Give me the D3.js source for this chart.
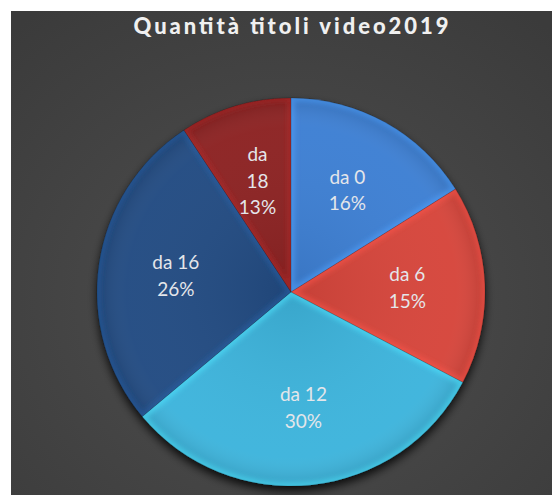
<!DOCTYPE html>
<html><head><meta charset="utf-8">
<script src="https://cdn.jsdelivr.net/npm/d3@7"></script>
<style>html,body{margin:0;padding:0;background:#fff;}svg{display:block;}</style>
</head><body>
<svg id="chart" width="552" height="495"></svg>
<script>
const title = "Quantità titoli video2019";
const categories = ["da 0", "da 6", "da 12", "da 16", "da 18"];
// slice shares
const values = [16.1, 16.6, 31.2, 26.8, 9.3];
// percentage labels as printed on the chart
const pctLabels = ["16%", "15%", "30%", "26%", "13%"];
const colors = ["#3e7fd3", "#d6443b", "#3db4dc", "#214c82", "#8c2222"];

const W = 552, H = 495;
const svg = d3.select("#chart");
const defs = svg.append("defs");

// background gradient
const bg = defs.append("radialGradient").attr("id", "bg")
  .attr("cx", "50%").attr("cy", "60%").attr("r", "75%");
bg.append("stop").attr("offset", "0%").attr("stop-color", "#4f4f4f");
bg.append("stop").attr("offset", "100%").attr("stop-color", "#3b3b3b");
svg.append("rect").attr("x", 11).attr("y", 11).attr("width", W - 11).attr("height", H - 11)
  .attr("fill", "url(#bg)");

svg.append("text").attr("x", 291).attr("y", 34).attr("text-anchor", "middle")
  .attr("font-family", "Lato, 'Open Sans', sans-serif").attr("font-weight", 900)
  .attr("font-size", 22).attr("fill", "#f0f0f0")
  .attr("textLength", 315).attr("lengthAdjust", "spacing")
  .text(title);

const cx = 291, cy = 292, R = 194;
const pie = d3.pie().sort(null).value(d => d).startAngle(0).endAngle(2 * Math.PI);
const arcs = pie(values);
const arc = d3.arc().innerRadius(0).outerRadius(R);
const labelArc = d3.arc().innerRadius(R * 0.6).outerRadius(R * 0.6);

// filters
const sh = defs.append("filter").attr("id", "shadow").attr("x", "-20%").attr("y", "-20%").attr("width", "140%").attr("height", "140%");
sh.append("feGaussianBlur").attr("in", "SourceAlpha").attr("stdDeviation", 5);
sh.append("feOffset").attr("dx", 0).attr("dy", 5).attr("result", "b");
sh.append("feComponentTransfer").append("feFuncA").attr("type", "linear").attr("slope", 0.85);
const fm = sh.append("feMerge");
fm.append("feMergeNode");
fm.append("feMergeNode").attr("in", "SourceGraphic");

const blur = defs.append("filter").attr("id", "soft");
blur.append("feGaussianBlur").attr("stdDeviation", 2.5);

const shade = defs.append("radialGradient").attr("id", "shade")
  .attr("gradientUnits", "userSpaceOnUse").attr("cx", 0).attr("cy", 0).attr("r", R);
shade.append("stop").attr("offset", "0%").attr("stop-color", "#000").attr("stop-opacity", 0.08);
shade.append("stop").attr("offset", "85%").attr("stop-color", "#fff").attr("stop-opacity", 0.03);
shade.append("stop").attr("offset", "100%").attr("stop-color", "#000").attr("stop-opacity", 0.12);

const g = svg.append("g").attr("transform", `translate(${cx},${cy})`);
const base = g.append("g").attr("filter", "url(#shadow)");
base.selectAll("path").data(arcs).join("path")
  .attr("d", arc).attr("fill", (d, i) => colors[i]);

// bevel highlight inside each slice
arcs.forEach((d, i) => {
  const id = "clip" + i;
  defs.append("clipPath").attr("id", id).append("path")
    .attr("d", arc(d)).attr("transform", `translate(${cx},${cy})`);
  const cg = svg.append("g").attr("clip-path", `url(#${id})`)
    .append("g").attr("transform", `translate(${cx},${cy})`);
  cg.append("path").attr("d", arc(d)).attr("fill", "url(#shade)");
  cg.append("path").attr("d", arc(d)).attr("fill", "none")
    .attr("stroke", d3.color(colors[i]).brighter(0.7)).attr("stroke-opacity", 0.55)
    .attr("stroke-width", 7).attr("filter", "url(#soft)");
});

g.append("g").selectAll("path").data(arcs).join("path")
  .attr("d", arc).attr("fill", "none")
  .attr("stroke", "rgba(0,0,0,0.25)").attr("stroke-width", 1);

// labels
const lg = svg.append("g").attr("transform", `translate(${cx},${cy})`);
arcs.forEach((d, i) => {
  const [x, y] = labelArc.centroid(d);
  const lines = categories[i] === "da 18" ? ["da", "18", pctLabels[i]] : [categories[i], pctLabels[i]];
  const lh = 26.5;
  const t = lg.append("text").attr("text-anchor", "middle")
    .attr("font-family", "Lato, 'Open Sans', sans-serif").attr("font-size", 19)
    .attr("fill", "#e4e6ea");
  lines.forEach((s, k) => {
    t.append("tspan").attr("x", x).attr("y", y + (k - (lines.length - 1) / 2) * lh + 7).text(s);
  });
});
</script>
</body></html>
